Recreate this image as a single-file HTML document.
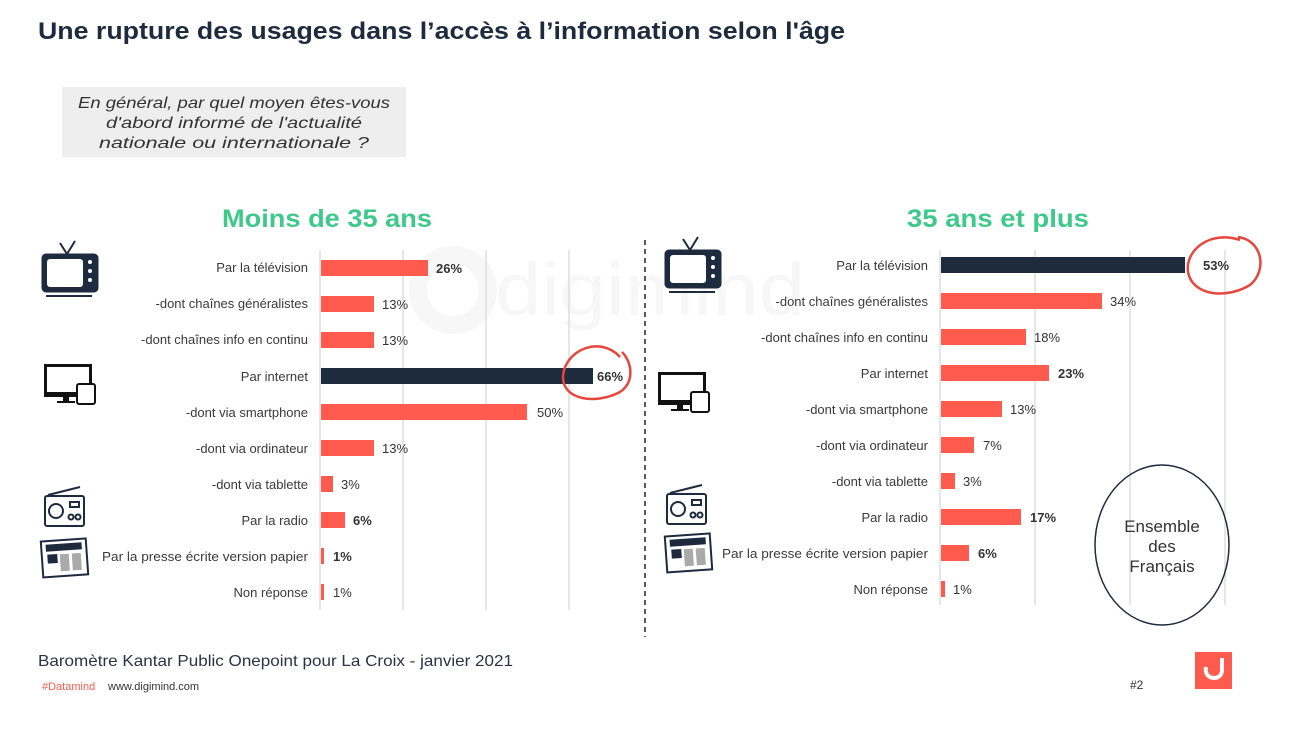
<!DOCTYPE html>
<html><head><meta charset="utf-8"><style>
body{margin:0;width:1300px;height:728px;background:#fff;overflow:hidden}
svg text{font-family:"Liberation Sans",sans-serif}
</style></head><body>
<svg width="1300" height="728" viewBox="0 0 1300 728" xmlns="http://www.w3.org/2000/svg">
<text x="38" y="39" font-size="24" font-weight="bold" fill="#1e2a3e" textLength="807" lengthAdjust="spacingAndGlyphs">Une rupture des usages dans l’accès à l’information selon l'âge</text>
<rect x="62" y="87" width="344" height="70" fill="#eeeeee"/>
<g font-size="16" font-style="italic" fill="#333" text-anchor="middle">
<text x="234" y="108" textLength="312" lengthAdjust="spacingAndGlyphs">En général, par quel moyen êtes-vous</text>
<text x="234" y="128" textLength="256" lengthAdjust="spacingAndGlyphs">d'abord informé de l'actualité</text>
<text x="234" y="148" textLength="270" lengthAdjust="spacingAndGlyphs">nationale ou internationale ?</text>
</g>
<text x="327" y="227" font-size="25" font-weight="bold" fill="#3cc98a" text-anchor="middle" textLength="210" lengthAdjust="spacingAndGlyphs">Moins de 35 ans</text>
<text x="998" y="227" font-size="25" font-weight="bold" fill="#3cc98a" text-anchor="middle" textLength="182" lengthAdjust="spacingAndGlyphs">35 ans et plus</text>
<!-- watermark -->
<text x="495" y="315" font-size="74" fill="#f7f7f7" textLength="310" lengthAdjust="spacingAndGlyphs">digimind</text>
<circle cx="453" cy="290" r="35" fill="none" stroke="#f7f7f7" stroke-width="18"/>
<line x1="645" y1="240" x2="645" y2="637" stroke="#222" stroke-width="1.5" stroke-dasharray="5,4"/>
<g stroke="#ddd" stroke-width="1.5">
<line x1="320" y1="250" x2="320" y2="610"/><line x1="403" y1="250" x2="403" y2="610"/><line x1="486" y1="250" x2="486" y2="610"/><line x1="569" y1="250" x2="569" y2="610"/>
<line x1="940" y1="250" x2="940" y2="605"/><line x1="1035" y1="250" x2="1035" y2="605"/><line x1="1130" y1="250" x2="1130" y2="605"/><line x1="1225" y1="250" x2="1225" y2="605"/>
</g>
<g font-size="13" fill="#3a3a3a">
<g text-anchor="end">
<text x="308" y="272">Par la télévision</text>
<text x="308" y="308">-dont chaînes généralistes</text>
<text x="308" y="344">-dont chaînes info en continu</text>
<text x="308" y="381">Par internet</text>
<text x="308" y="417">-dont via smartphone</text>
<text x="308" y="453">-dont via ordinateur</text>
<text x="308" y="489">-dont via tablette</text>
<text x="308" y="525">Par la radio</text>
<text x="308" y="561" textLength="206" lengthAdjust="spacingAndGlyphs">Par la presse écrite version papier</text>
<text x="308" y="597">Non réponse</text>
<text x="928" y="270">Par la télévision</text>
<text x="928" y="306">-dont chaînes généralistes</text>
<text x="928" y="342">-dont chaînes info en continu</text>
<text x="928" y="378">Par internet</text>
<text x="928" y="414">-dont via smartphone</text>
<text x="928" y="450">-dont via ordinateur</text>
<text x="928" y="486">-dont via tablette</text>
<text x="928" y="522">Par la radio</text>
<text x="928" y="558" textLength="206" lengthAdjust="spacingAndGlyphs">Par la presse écrite version papier</text>
<text x="928" y="594">Non réponse</text>
</g>
</g>
<g fill="#ff5a4e">
<rect x="321" y="260" width="107" height="16"/>
<rect x="321" y="296" width="53" height="16"/>
<rect x="321" y="332" width="53" height="16"/>
<rect x="321" y="404" width="206" height="16"/>
<rect x="321" y="440" width="53" height="16"/>
<rect x="321" y="476" width="12" height="16"/>
<rect x="321" y="512" width="24" height="16"/>
<rect x="321" y="548" width="3" height="16"/>
<rect x="321" y="584" width="3" height="16"/>
<rect x="941" y="293" width="161" height="16"/>
<rect x="941" y="329" width="85" height="16"/>
<rect x="941" y="365" width="108" height="16"/>
<rect x="941" y="401" width="61" height="16"/>
<rect x="941" y="437" width="33" height="16"/>
<rect x="941" y="473" width="14" height="16"/>
<rect x="941" y="509" width="80" height="16"/>
<rect x="941" y="545" width="28" height="16"/>
<rect x="941" y="581" width="4" height="16"/>
</g>
<rect x="321" y="368" width="272" height="16" fill="#1e2a3e"/>
<rect x="941" y="257" width="244" height="16" fill="#1e2a3e"/>
<g font-size="13" fill="#333">
<text x="436" y="273" font-weight="bold">26%</text>
<text x="382" y="309">13%</text>
<text x="382" y="345">13%</text>
<text x="597" y="381" font-weight="bold">66%</text>
<text x="537" y="417">50%</text>
<text x="382" y="453">13%</text>
<text x="341" y="489">3%</text>
<text x="353" y="525" font-weight="bold">6%</text>
<text x="333" y="561" font-weight="bold">1%</text>
<text x="333" y="597">1%</text>
<text x="1203" y="270" font-weight="bold">53%</text>
<text x="1110" y="306">34%</text>
<text x="1034" y="342">18%</text>
<text x="1058" y="378" font-weight="bold">23%</text>
<text x="1010" y="414">13%</text>
<text x="983" y="450">7%</text>
<text x="963" y="486">3%</text>
<text x="1030" y="522" font-weight="bold">17%</text>
<text x="978" y="558" font-weight="bold">6%</text>
<text x="953" y="594">1%</text>
</g>
<path d="M620 357 C 600 335, 565 350, 563 376 C 562 400, 595 405, 620 392 C 635 382, 632 362, 622 352" fill="none" stroke="#e8453c" stroke-width="2.5"/>
<path d="M1240 240 C 1210 230, 1185 250, 1188 272 C 1192 295, 1225 300, 1250 285 C 1268 270, 1262 240, 1238 237" fill="none" stroke="#e8453c" stroke-width="2.5"/>
<ellipse cx="1162" cy="545" rx="67" ry="80" fill="none" stroke="#1e2a3e" stroke-width="1.5"/>
<g font-size="17" fill="#333" text-anchor="middle">
<text x="1162" y="532">Ensemble</text><text x="1162" y="552">des</text><text x="1162" y="572">Français</text>
</g>
<g id="tv" fill="none" stroke="#1e2a3e">
<path d="M60 243 L67 254 L75 241" stroke-width="2"/>
<rect x="42" y="254" width="56" height="38" rx="4" fill="#1e2a3e"/>
<rect x="47" y="259" width="36" height="28" rx="3" fill="#fff" stroke="none"/>
<circle cx="90" cy="262" r="2" fill="#fff" stroke="none"/><circle cx="90" cy="271" r="2" fill="#fff" stroke="none"/><circle cx="90" cy="280" r="2" fill="#fff" stroke="none"/>
<line x1="46" y1="296" x2="92" y2="296" stroke-width="2"/>
</g>
<use href="#tv" x="623" y="-4"/>
<g id="pc">
<rect x="44" y="364" width="48" height="33" fill="#111"/><rect x="47" y="367" width="42" height="25" fill="#fff"/>
<rect x="63" y="397" width="6" height="4" fill="#111"/><rect x="57" y="401" width="18" height="2" fill="#111"/>
<rect x="77" y="384" width="18" height="20" rx="2" fill="#fff" stroke="#111" stroke-width="2"/>
</g>
<use href="#pc" x="614" y="8"/>
<g id="radio" fill="none" stroke="#1e2a3e" stroke-width="2">
<line x1="48" y1="495" x2="80" y2="487"/>
<rect x="45" y="496" width="39" height="30" rx="2"/>
<circle cx="56" cy="511" r="7"/><rect x="70" y="502" width="9" height="5"/>
<circle cx="71" cy="517" r="2.5"/><circle cx="78" cy="517" r="2.5"/>
</g>
<use href="#radio" x="622" y="-2"/>
<g id="news" stroke="#1e2a3e" fill="#fff">
<rect x="42" y="540" width="45" height="36" transform="rotate(-4 64 558)" stroke-width="2"/>
<rect x="47" y="544" width="35" height="6" fill="#1e2a3e" transform="rotate(-4 64 558)"/>
<rect x="48" y="554" width="9" height="8" fill="#1e2a3e" transform="rotate(-4 64 558)"/>
<rect x="60" y="554" width="9" height="17" fill="#aaa" stroke="none" transform="rotate(-4 64 558)"/>
<rect x="72" y="554" width="9" height="17" fill="#aaa" stroke="none" transform="rotate(-4 64 558)"/>
</g>
<use href="#news" x="624" y="-5"/>
<text x="38" y="666" font-size="16" fill="#2a3345" textLength="475" lengthAdjust="spacingAndGlyphs">Baromètre Kantar Public Onepoint pour La Croix   - janvier 2021</text>
<text x="42" y="690" font-size="11" fill="#ff5a4e">#Datamind</text>
<text x="108" y="690" font-size="11" fill="#333">www.digimind.com</text>
<text x="1130" y="689" font-size="12" fill="#333">#2</text>
<rect x="1195" y="652" width="37" height="37" fill="#ff5a4e"/>
<path d="M1206 667 C1203 680, 1222 682, 1222 670 L1222 658" fill="none" stroke="#fff" stroke-width="4"/>
</svg>
</body></html>
